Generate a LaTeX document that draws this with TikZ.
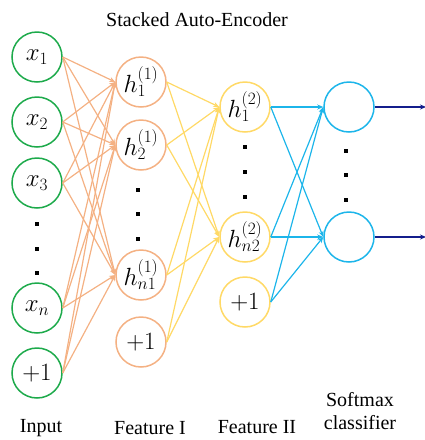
\documentclass[tikz,border=0pt]{standalone}
\usepackage{fontspec}
\setmainfont{Liberation Serif}
\usetikzlibrary{arrows.meta}
\definecolor{ingreen}{HTML}{1DAA4B}
\definecolor{featorange}{HTML}{F4B183}
\definecolor{featyellow}{HTML}{FFD966}
\definecolor{softblue}{HTML}{1CB5EA}
\definecolor{outnavy}{HTML}{141E8C}
\begin{document}
\begin{tikzpicture}[x=1pt,y=-1pt,
  neuron/.style={circle,minimum size=50pt,inner sep=0pt,line width=1.5pt,
    font=\fontsize{23}{26}\selectfont},
  dotmark/.style={rectangle,fill=black,minimum size=4pt,inner sep=0pt},
  caption/.style={font=\fontsize{20}{23}\selectfont},
  edge/.style={line width=1.2pt,-{Stealth[length=6pt,width=5pt]}},
]
\useasboundingbox (0,0) rectangle (424,440);

\node[caption] (title) at (197,20) {Stacked Auto-Encoder};

% input layer
\node[neuron,draw=ingreen] (x1) at (37,57) {$x_1$};
\node[neuron,draw=ingreen] (x2) at (37,122) {$x_2$};
\node[neuron,draw=ingreen] (x3) at (37,183) {$x_3$};
\node[neuron,draw=ingreen] (xn) at (37,308) {$x_n$};
\node[neuron,draw=ingreen] (xb) at (37,373) {$+1$};
\node[dotmark] (id1) at (37,224) {};
\node[dotmark] (id2) at (37,249) {};
\node[dotmark] (id3) at (37,273) {};

% first hidden layer
\node[neuron,draw=featorange] (a1) at (141,82) {$h_1^{(1)}$};
\node[neuron,draw=featorange] (a2) at (141,145) {$h_2^{(1)}$};
\node[neuron,draw=featorange] (an) at (141,275) {$h_{n1}^{(1)}$};
\node[neuron,draw=featorange] (ab) at (141,342) {$+1$};
\node[dotmark] (ad1) at (138,190) {};
\node[dotmark] (ad2) at (138,214) {};
\node[dotmark] (ad3) at (138,239) {};

% second hidden layer
\node[neuron,draw=featyellow] (b1) at (245,107) {$h_1^{(2)}$};
\node[neuron,draw=featyellow] (bn) at (245,237) {$h_{n2}^{(2)}$};
\node[neuron,draw=featyellow] (bb) at (245,302) {$+1$};
\node[dotmark] (bd1) at (245,147) {};
\node[dotmark] (bd2) at (245,172) {};
\node[dotmark] (bd3) at (245,197) {};

% softmax layer
\node[neuron,draw=softblue] (s1) at (349,107) {};
\node[neuron,draw=softblue] (s2) at (349,237) {};
\node[dotmark] (sd1) at (346,151) {};
\node[dotmark] (sd2) at (346,175) {};
\node[dotmark] (sd3) at (346,200) {};

% connections
\foreach \s in {x1,x2,x3,xn,xb}
  \foreach \t in {a1,a2,an}
    \draw[edge,featorange] (\s.east) -- (\t.west);
\foreach \s in {a1,a2,an,ab}
  \foreach \t in {b1,bn}
    \draw[edge,featyellow] (\s.east) -- (\t.west);
\foreach \s in {b1,bn,bb}
  \foreach \t in {s1,s2}
    \draw[edge,softblue] (\s.east) -- (\t.west);

\coordinate (o1) at (426,107);
\coordinate (o2) at (426,237);
\draw[edge,outnavy] (s1.east) -- (o1);
\draw[edge,outnavy] (s2.east) -- (o2);

% layer captions
\node[caption] (lin) at (41,428) {Input};
\node[caption] (lf1) at (150,428) {Feature I};
\node[caption] (lf2) at (257,427) {Feature II};
\node[caption,align=center] (lsm) at (360,411) {Softmax\\classifier};
\end{tikzpicture}
\end{document}
